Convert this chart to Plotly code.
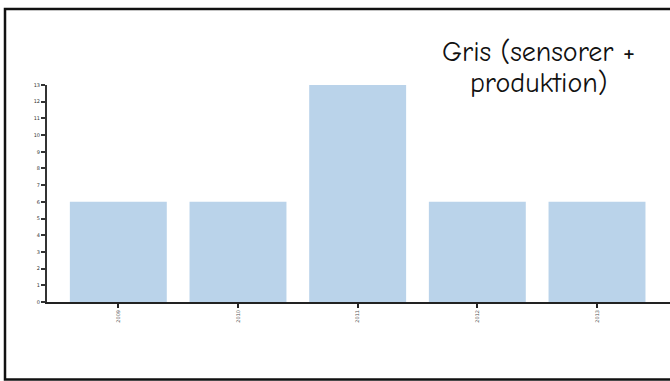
import plotly.graph_objects as go

# Bar chart data
categories = ["2009", "2010", "2011", "2012", "2013"]
values = [6, 6, 13, 6, 6]
y_ticks = list(range(0, 14))
title_lines = ["Gris (sensorer +", "produktion)"]

W, H = 670, 381
L, R, T, B = 47, 0, 85, 79
plot_w = W - L - R
plot_h = H - T - B

x_pos = list(range(len(categories)))

fig = go.Figure(
    go.Bar(
        x=x_pos,
        y=values,
        width=0.81,
        marker=dict(color="#BAD3EA", line=dict(width=0)),
        hoverinfo="skip",
    )
)

def px_x(p):
    return (p - L) / plot_w

def px_y(p):
    return (H - B - p) / plot_h

title_font = dict(size=28, color="#111111",
                  family="Comic Sans MS, Comic Neue, DejaVu Sans")

fig.update_layout(
    width=W,
    height=H,
    margin=dict(l=L, r=R, t=T, b=B),
    paper_bgcolor="white",
    plot_bgcolor="white",
    showlegend=False,
    xaxis=dict(
        range=[-0.596, 4.61],
        tickmode="array",
        tickvals=x_pos,
        ticktext=categories,
        tickangle=-90,
        tickfont=dict(size=5, color="#555555", family="DejaVu Sans"),
        ticks="outside",
        ticklen=4,
        tickwidth=1.5,
        tickcolor="#222222",
        showline=True,
        linecolor="#222222",
        linewidth=2,
        showgrid=False,
        zeroline=False,
        fixedrange=True,
    ),
    yaxis=dict(
        range=[0, 13],
        tickmode="array",
        tickvals=y_ticks,
        ticktext=[str(v) for v in y_ticks],
        tickfont=dict(size=5, color="#333333", family="DejaVu Sans"),
        ticks="outside",
        ticklen=4,
        tickwidth=1.5,
        tickcolor="#333333",
        showline=True,
        linecolor="#333333",
        linewidth=2,
        showgrid=False,
        zeroline=False,
        fixedrange=True,
    ),
    shapes=[
        dict(
            type="rect",
            xref="paper",
            yref="paper",
            x0=px_x(5),
            x1=px_x(W + 5),
            y0=px_y(379.5),
            y1=px_y(9),
            line=dict(color="#111111", width=2.5),
            fillcolor="rgba(0,0,0,0)",
            layer="above",
        )
    ],
    annotations=[
        dict(
            text=line,
            xref="paper",
            yref="paper",
            x=px_x(538),
            y=px_y(yc),
            xanchor="center",
            yanchor="middle",
            showarrow=False,
            font=title_font,
        )
        for line, yc in zip(title_lines, [52, 83])
    ],
)

fig.write_html("out.html")
